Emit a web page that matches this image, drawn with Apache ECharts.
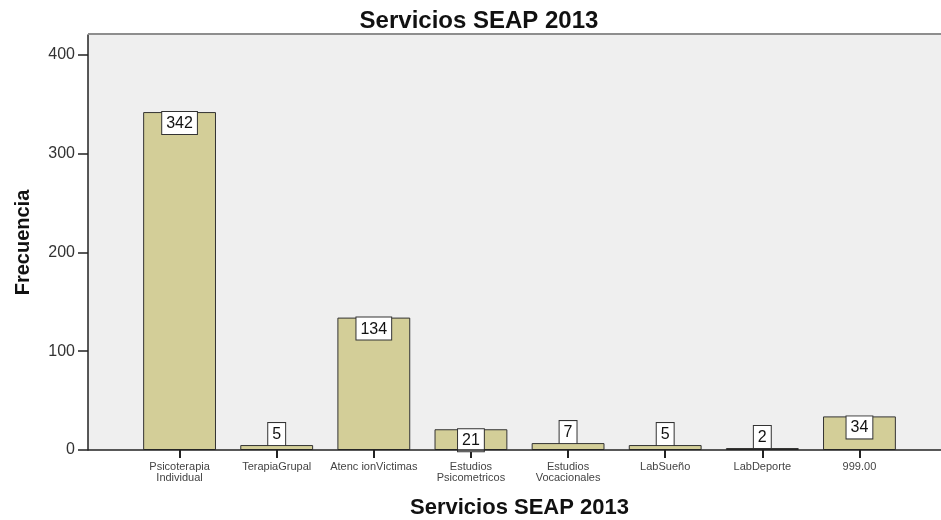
<!DOCTYPE html>
<html>
<head>
<meta charset="utf-8">
<script src="https://cdn.jsdelivr.net/npm/echarts@6/dist/echarts.min.js"></script>
<style>
  html, body { margin: 0; padding: 0; background: #fff; }
  #chart { width: 941px; height: 520px; }
</style>
</head>
<body>
<div id="chart"></div>
<script>
// Services offered by SEAP in 2013 and how often each was provided
var categories = [
  'Psicoterapia\nIndividual',
  'TerapiaGrupal',
  'Atenc ionVictimas',
  'Estudios\nPsicometricos',
  'Estudios\nVocacionales',
  'LabSueño',
  'LabDeporte',
  '999.00'
];
var frequencies = [342, 5, 134, 21, 7, 5, 2, 34];
var yTicks = [0, 100, 200, 300, 400];

// Tall bars carry their count inside the top edge, short ones just above it
var labelInside = [true, false, true, true, false, false, false, true];

var chart = echarts.init(document.getElementById('chart'), null, { renderer: 'canvas' });

var gridLeft = 131, gridRight = 33, gridTop = 35, gridBottom = 70;
var panelLeft = 88;

var barData = frequencies.map(function (v, i) {
  return {
    value: v,
    label: labelInside[i]
      ? { position: 'insideTop', distance: 0 }
      : { position: 'top', distance: 0 }
  };
});

chart.setOption({
  animation: false,
  title: {
    text: 'Servicios SEAP 2013',
    left: 474,
    top: 4,
    textAlign: 'center',
    textStyle: { fontFamily: 'Liberation Sans, Arial', fontSize: 24, fontWeight: 'bold', color: '#111' }
  },
  grid: {
    left: gridLeft, right: gridRight, top: gridTop, bottom: gridBottom,
    containLabel: false,
    outerBoundsMode: 'none'
  },
  xAxis: {
    type: 'category',
    data: categories,
    name: 'Servicios SEAP 2013',
    nameLocation: 'middle',
    nameGap: 47,
    nameTextStyle: { fontFamily: 'Liberation Sans, Arial', fontSize: 22, fontWeight: 'bold', color: '#111' },
    axisLine: { show: false },
    axisTick: { show: true, alignWithLabel: true, length: 8, lineStyle: { color: '#222', width: 2 } },
    axisLabel: {
      interval: 0,
      margin: 11,
      fontFamily: 'Liberation Sans, Arial',
      fontSize: 11,
      lineHeight: 11,
      color: '#444'
    }
  },
  yAxis: {
    type: 'value',
    min: 0,
    max: 420,
    interval: 100,
    offset: gridLeft - panelLeft,
    name: 'Frecuencia',
    nameLocation: 'middle',
    nameGap: 55,
    nameRotate: 90,
    nameTextStyle: { fontFamily: 'Liberation Sans, Arial', fontSize: 20, fontWeight: 'bold', color: '#111' },
    axisLine: { show: true, lineStyle: { color: '#222', width: 1.5 } },
    axisTick: { show: true, length: 10, customValues: yTicks, lineStyle: { color: '#222', width: 1.5 } },
    axisLabel: {
      margin: 13,
      customValues: yTicks,
      fontFamily: 'Liberation Sans, Arial',
      fontSize: 16,
      color: '#333'
    },
    splitLine: { show: false }
  },
  graphic: [
    {
      type: 'rect',
      z: -10,
      silent: true,
      shape: { x: panelLeft, y: gridTop, width: 941 - panelLeft, height: 520 - gridTop - gridBottom },
      style: { fill: '#efefef' }
    },
    {
      type: 'line',
      z: 10,
      silent: true,
      shape: { x1: panelLeft, y1: gridTop - 1, x2: 941, y2: gridTop - 1 },
      style: { stroke: '#8e8e8e', lineWidth: 2 }
    },
    {
      type: 'line',
      z: 10,
      silent: true,
      shape: { x1: panelLeft, y1: 520 - gridBottom, x2: 941, y2: 520 - gridBottom },
      style: { stroke: '#222', lineWidth: 1.5 }
    }
  ],
  series: [{
    type: 'bar',
    data: barData,
    barWidth: '75%',
    itemStyle: { color: '#d3ce98', borderColor: '#333', borderWidth: 1 },
    label: {
      show: true,
      fontFamily: 'Liberation Sans, Arial',
      fontSize: 16,
      lineHeight: 17,
      color: '#111',
      backgroundColor: '#fff',
      borderColor: '#333',
      borderWidth: 1,
      padding: [3, 4, 2, 4]
    }
  }]
});
</script>
</body>
</html>
